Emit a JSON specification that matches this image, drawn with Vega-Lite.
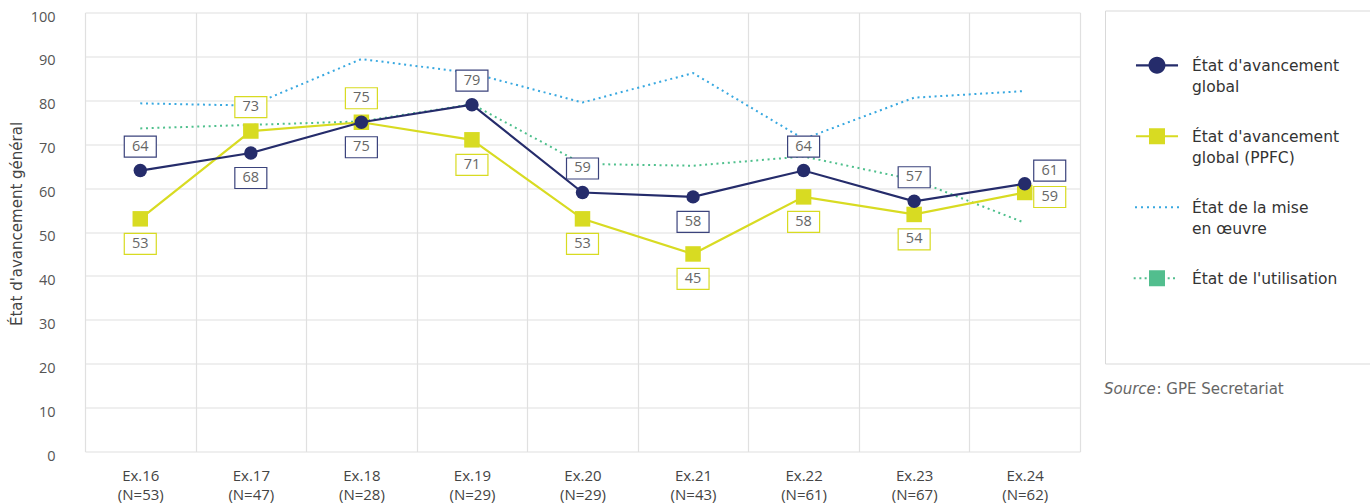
{
  "$schema": "https://vega.github.io/schema/vega-lite/v6.json",
  "width": 995,
  "height": 439,
  "autosize": {"type": "none"},
  "padding": {"left": 85, "top": 12.5, "right": 290, "bottom": 52.5},
  "background": "white",
  "title": {
    "text": "Source",
    "subtitle": "\u200d\u00a0\u00a0\u00a0\u00a0\u00a0\u00a0\u00a0\u00a0\u00a0\u00a0\u00a0: GPE Secretariat",
    "orient": "top",
    "anchor": "start",
    "frame": "group",
    "dx": 1019,
    "dy": 391.5,
    "font": "DejaVu Sans",
    "fontSize": 15,
    "fontStyle": "italic",
    "fontWeight": "normal",
    "color": "#666666",
    "lineHeight": 15,
    "subtitleFont": "DejaVu Sans",
    "subtitleFontSize": 15,
    "subtitleColor": "#666666",
    "subtitlePadding": -15
  },
  "data": {
    "values": [
      {"exercise": "Ex.16 (N=53)", "series": "global", "value": 64},
      {"exercise": "Ex.17 (N=47)", "series": "global", "value": 68},
      {"exercise": "Ex.18 (N=28)", "series": "global", "value": 75},
      {"exercise": "Ex.19 (N=29)", "series": "global", "value": 79},
      {"exercise": "Ex.20 (N=29)", "series": "global", "value": 59},
      {"exercise": "Ex.21 (N=43)", "series": "global", "value": 58},
      {"exercise": "Ex.22 (N=61)", "series": "global", "value": 64},
      {"exercise": "Ex.23 (N=67)", "series": "global", "value": 57},
      {"exercise": "Ex.24 (N=62)", "series": "global", "value": 61},
      {"exercise": "Ex.16 (N=53)", "series": "ppfc", "value": 53},
      {"exercise": "Ex.17 (N=47)", "series": "ppfc", "value": 73},
      {"exercise": "Ex.18 (N=28)", "series": "ppfc", "value": 75},
      {"exercise": "Ex.19 (N=29)", "series": "ppfc", "value": 71},
      {"exercise": "Ex.20 (N=29)", "series": "ppfc", "value": 53},
      {"exercise": "Ex.21 (N=43)", "series": "ppfc", "value": 45},
      {"exercise": "Ex.22 (N=61)", "series": "ppfc", "value": 58},
      {"exercise": "Ex.23 (N=67)", "series": "ppfc", "value": 54},
      {"exercise": "Ex.24 (N=62)", "series": "ppfc", "value": 59},
      {"exercise": "Ex.16 (N=53)", "series": "mise", "value": 79.3},
      {"exercise": "Ex.17 (N=47)", "series": "mise", "value": 78.8},
      {"exercise": "Ex.18 (N=28)", "series": "mise", "value": 89.4},
      {"exercise": "Ex.19 (N=29)", "series": "mise", "value": 86.2},
      {"exercise": "Ex.20 (N=29)", "series": "mise", "value": 79.5},
      {"exercise": "Ex.21 (N=43)", "series": "mise", "value": 86.2},
      {"exercise": "Ex.22 (N=61)", "series": "mise", "value": 71.2},
      {"exercise": "Ex.23 (N=67)", "series": "mise", "value": 80.6},
      {"exercise": "Ex.24 (N=62)", "series": "mise", "value": 82.1},
      {"exercise": "Ex.16 (N=53)", "series": "util", "value": 73.6},
      {"exercise": "Ex.17 (N=47)", "series": "util", "value": 74.4},
      {"exercise": "Ex.18 (N=28)", "series": "util", "value": 75.2},
      {"exercise": "Ex.19 (N=29)", "series": "util", "value": 79.1},
      {"exercise": "Ex.20 (N=29)", "series": "util", "value": 65.5},
      {"exercise": "Ex.21 (N=43)", "series": "util", "value": 65.1},
      {"exercise": "Ex.22 (N=61)", "series": "util", "value": 67.2},
      {"exercise": "Ex.23 (N=67)", "series": "util", "value": 61.9},
      {"exercise": "Ex.24 (N=62)", "series": "util", "value": 52.1}
    ]
  },
  "encoding": {
    "x": {
      "field": "exercise",
      "type": "nominal",
      "scale": {
        "type": "band",
        "paddingInner": 0,
        "paddingOuter": 0,
        "domain": ["Ex.16 (N=53)", "Ex.17 (N=47)", "Ex.18 (N=28)", "Ex.19 (N=29)", "Ex.20 (N=29)", "Ex.21 (N=43)", "Ex.22 (N=61)", "Ex.23 (N=67)", "Ex.24 (N=62)"]
      },
      "axis": {
        "title": null,
        "tickBand": "extent",
        "grid": true,
        "ticks": false,
        "domain": false,
        "labelAngle": 0,
        "labelExpr": "split(datum.label, ' ')",
        "labelPadding": 17,
        "labelFontSize": 15,
        "labelLineHeight": 19,
        "labelBaseline": "top",
        "labelColor": "#444444"
      }
    },
    "y": {
      "field": "value",
      "type": "quantitative",
      "scale": {"domain": [0, 100], "nice": false},
      "axis": {
        "title": "État d'avancement général",
        "values": [0, 10, 20, 30, 40, 50, 60, 70, 80, 90, 100],
        "grid": true,
        "ticks": false,
        "domain": false,
        "labelPadding": 30,
        "labelOffset": 4.5,
        "labelFontSize": 14.5,
        "labelColor": "#555555",
        "titleFont": "DejaVu Sans",
        "titleFontSize": 15,
        "titleFontWeight": "normal",
        "titleColor": "#444444",
        "titleAngle": 270,
        "titleAlign": "center",
        "titleBaseline": "middle",
        "titleX": -68.5,
        "titleY": 211
      }
    }
  },
  "layer": [
    {
      "transform": [{"filter": "datum.series === 'mise'"}],
      "mark": {"type": "line", "color": "#38a8e0", "strokeWidth": 2, "strokeDash": [2, 3.7]}
    },
    {
      "transform": [{"filter": "datum.series === 'util'"}],
      "mark": {"type": "line", "color": "#4fc08d", "strokeWidth": 2, "strokeDash": [2, 3.7]}
    },
    {
      "transform": [{"filter": "datum.series === 'ppfc'"}],
      "mark": {"type": "line", "color": "#d8db22", "strokeWidth": 2.2}
    },
    {
      "transform": [{"filter": "datum.series === 'ppfc'"}],
      "mark": {"type": "point", "shape": "square", "filled": true, "opacity": 1, "size": 240, "color": "#d8db22"}
    },
    {
      "transform": [{"filter": "datum.series === 'global'"}],
      "mark": {"type": "line", "color": "#252c6b", "strokeWidth": 2.2}
    },
    {
      "transform": [{"filter": "datum.series === 'global'"}],
      "mark": {"type": "point", "shape": "circle", "filled": true, "opacity": 1, "size": 180, "color": "#252c6b"}
    },
    {
      "transform": [{"filter": "(datum.series === 'global' && indexof(['Ex.16','Ex.19','Ex.20','Ex.22','Ex.23'], slice(datum.exercise, 0, 5)) >= 0) || (datum.series === 'ppfc' && indexof(['Ex.17','Ex.18'], slice(datum.exercise, 0, 5)) >= 0)"}],
      "layer": [
        {
          "mark": {"type": "point", "shape": "M-1.6,-1.05H1.6V1.05H-1.6Z", "size": 400, "filled": false, "fill": "white", "fillOpacity": 1, "opacity": 1, "strokeWidth": 1.2, "yOffset": -24},
          "encoding": {"stroke": {"field": "series", "type": "nominal", "scale": {"domain": ["global", "ppfc"], "range": ["#3b437c", "#d8db22"]}, "legend": null}}
        },
        {
          "mark": {"type": "text", "fontSize": 14.5, "color": "#666666", "dy": -24, "baseline": "middle", "align": "center"},
          "encoding": {"text": {"field": "value", "type": "quantitative"}}
        }
      ]
    },
    {
      "transform": [{"filter": "(datum.series === 'global' && indexof(['Ex.17','Ex.18','Ex.21'], slice(datum.exercise, 0, 5)) >= 0) || (datum.series === 'ppfc' && indexof(['Ex.16','Ex.19','Ex.20','Ex.21','Ex.22','Ex.23'], slice(datum.exercise, 0, 5)) >= 0)"}],
      "layer": [
        {
          "mark": {"type": "point", "shape": "M-1.6,-1.05H1.6V1.05H-1.6Z", "size": 400, "filled": false, "fill": "white", "fillOpacity": 1, "opacity": 1, "strokeWidth": 1.2, "yOffset": 25},
          "encoding": {"stroke": {"field": "series", "type": "nominal", "scale": {"domain": ["global", "ppfc"], "range": ["#3b437c", "#d8db22"]}, "legend": null}}
        },
        {
          "mark": {"type": "text", "fontSize": 14.5, "color": "#666666", "dy": 25, "baseline": "middle", "align": "center"},
          "encoding": {"text": {"field": "value", "type": "quantitative"}}
        }
      ]
    },
    {
      "transform": [{"filter": "datum.series === 'global' && slice(datum.exercise, 0, 5) === 'Ex.24'"}],
      "layer": [
        {
          "mark": {"type": "point", "shape": "M-1.6,-1.05H1.6V1.05H-1.6Z", "size": 400, "filled": false, "fill": "white", "fillOpacity": 1, "opacity": 1, "strokeWidth": 1.2, "xOffset": 25, "yOffset": -13},
          "encoding": {"stroke": {"field": "series", "type": "nominal", "scale": {"domain": ["global", "ppfc"], "range": ["#3b437c", "#d8db22"]}, "legend": null}}
        },
        {
          "mark": {"type": "text", "fontSize": 14.5, "color": "#666666", "dx": 25, "dy": -13, "baseline": "middle", "align": "center"},
          "encoding": {"text": {"field": "value", "type": "quantitative"}}
        }
      ]
    },
    {
      "transform": [{"filter": "datum.series === 'ppfc' && slice(datum.exercise, 0, 5) === 'Ex.24'"}],
      "layer": [
        {
          "mark": {"type": "point", "shape": "M-1.6,-1.05H1.6V1.05H-1.6Z", "size": 400, "filled": false, "fill": "white", "fillOpacity": 1, "opacity": 1, "strokeWidth": 1.2, "xOffset": 25, "yOffset": 4.5},
          "encoding": {"stroke": {"field": "series", "type": "nominal", "scale": {"domain": ["global", "ppfc"], "range": ["#3b437c", "#d8db22"]}, "legend": null}}
        },
        {
          "mark": {"type": "text", "fontSize": 14.5, "color": "#666666", "dx": 25, "dy": 4.5, "baseline": "middle", "align": "center"},
          "encoding": {"text": {"field": "value", "type": "quantitative"}}
        }
      ]
    },
    {
      "transform": [{"filter": "false"}],
      "mark": {"type": "point", "filled": true, "opacity": 1},
      "encoding": {
        "color": {
          "field": "series",
          "type": "nominal",
          "scale": {"domain": ["global", "ppfc", "mise", "util"], "range": ["#252c6b", "#d8db22", "#38a8e0", "#52be8e"]},
          "legend": {
            "title": null,
            "orient": "none",
            "legendX": 1020,
            "legendY": -2,
            "padding": 40,
            "strokeColor": "#d9d9d9",
            "fillColor": "white",
            "labelFont": "DejaVu Sans",
            "labelFontSize": 15.5,
            "labelColor": "#333333",
            "labelLimit": 300,
            "labelBaseline": "top",
            "labelOffset": 31,
            "symbolSize": 256,
            "symbolStrokeWidth": 0,
            "symbolOpacity": 1,
            "rowPadding": 26,
            "encode": {"labels": {"update": {"lineHeight": {"signal": "datum.value === 'util' ? 18 : 21"}}}},
            "labelExpr": "datum.value === 'global' ? [\"État d'avancement\", 'global'] : datum.value === 'ppfc' ? [\"État d'avancement\", 'global (PPFC)'] : datum.value === 'mise' ? ['État de la mise', 'en œuvre'] : [\"État de l'utilisation\", '', '']"
          }
        },
        "shape": {
          "field": "series",
          "type": "nominal",
          "scale": {
            "domain": ["global", "ppfc", "mise", "util"],
            "range": [
              "M-2.13,0.71H3.13V0.99H-2.13Z M1.56,0.85A1.06,1.06 0 1,1 -0.56,0.85A1.06,1.06 0 1,1 1.56,0.85Z",
              "M-2.13,0.73H3.13V0.97H-2.13Z M-0.5,-0.15H1.5V1.85H-0.5Z",
              "M-2.25,0.725h0.25v0.25h-0.25Z M-1.5,0.725h0.25v0.25h-0.25Z M-0.75,0.725h0.25v0.25h-0.25Z M0,0.725h0.25v0.25h-0.25Z M0.75,0.725h0.25v0.25h-0.25Z M1.5,0.725h0.25v0.25h-0.25Z M2.25,0.725h0.25v0.25h-0.25Z M3,0.725h0.25v0.25h-0.25Z",
              "M-2.415,0.725h0.25v0.25h-0.25Z M-1.705,0.725h0.25v0.25h-0.25Z M-1.045,0.725h0.25v0.25h-0.25Z M-0.5,-0.15H1.5V1.85H-0.5Z M1.835,0.725h0.25v0.25h-0.25Z M2.5,0.725h0.25v0.25h-0.25Z"
            ]
          },
          "legend": {
            "title": null,
            "orient": "none",
            "legendX": 1020,
            "legendY": -2,
            "padding": 40,
            "strokeColor": "#d9d9d9",
            "fillColor": "white",
            "labelFont": "DejaVu Sans",
            "labelFontSize": 15.5,
            "labelColor": "#333333",
            "labelLimit": 300,
            "labelBaseline": "top",
            "labelOffset": 31,
            "symbolSize": 256,
            "symbolStrokeWidth": 0,
            "symbolOpacity": 1,
            "rowPadding": 26,
            "encode": {"labels": {"update": {"lineHeight": {"signal": "datum.value === 'util' ? 18 : 21"}}}},
            "labelExpr": "datum.value === 'global' ? [\"État d'avancement\", 'global'] : datum.value === 'ppfc' ? [\"État d'avancement\", 'global (PPFC)'] : datum.value === 'mise' ? ['État de la mise', 'en œuvre'] : [\"État de l'utilisation\", '', '']"
          }
        }
      }
    }
  ],
  "config": {
    "font": "Open Sans",
    "view": {"stroke": null},
    "axis": {"gridColor": "#e0e0e0", "gridWidth": 1.2}
  }
}
